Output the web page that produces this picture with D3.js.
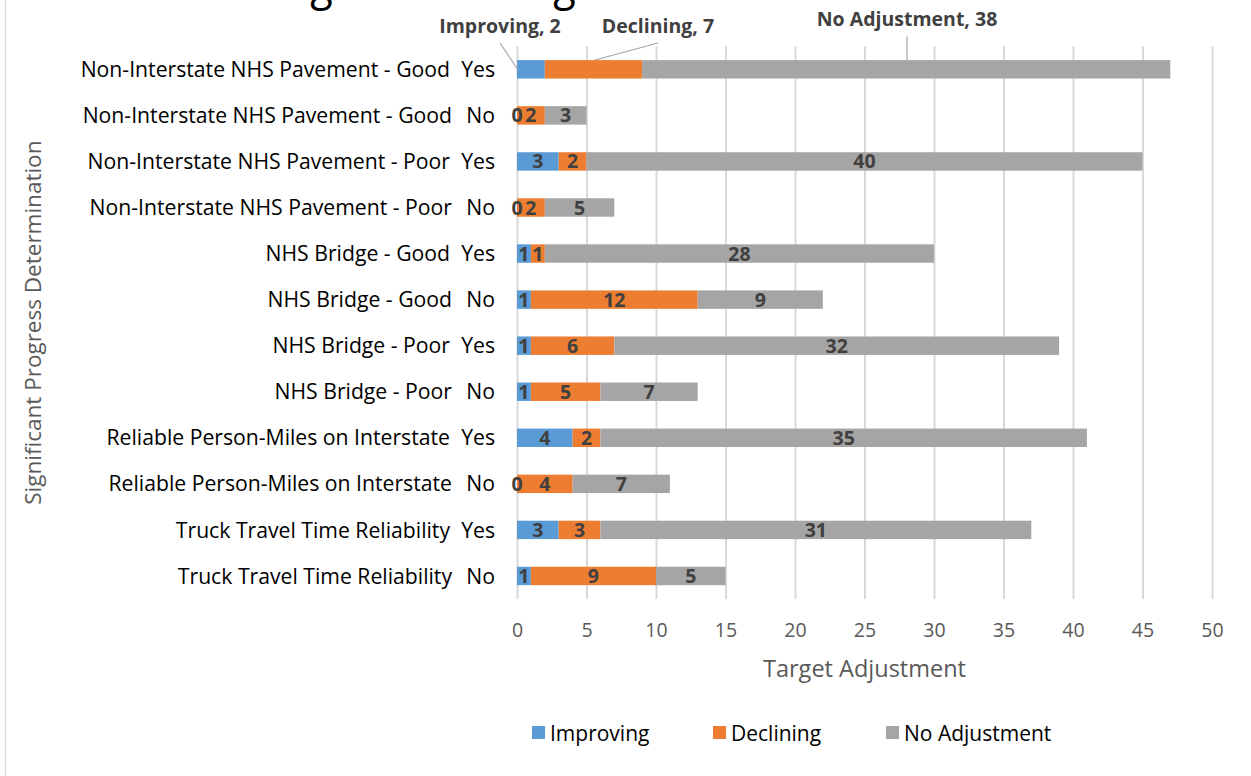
<!DOCTYPE html>
<html>
<head>
<meta charset="utf-8">
<script src="https://cdn.jsdelivr.net/npm/d3@7"></script>
<style>
  html, body { margin: 0; padding: 0; background: #fff; }
  svg { display: block; font-family: "Open Sans", "Noto Sans", sans-serif; }
</style>
</head>
<body>
<svg id="chart" width="1251" height="776"></svg>
<script>
// ---- data ----
const categories = [
  "Non-Interstate NHS Pavement - Good",
  "Non-Interstate NHS Pavement - Good",
  "Non-Interstate NHS Pavement - Poor",
  "Non-Interstate NHS Pavement - Poor",
  "NHS Bridge - Good",
  "NHS Bridge - Good",
  "NHS Bridge - Poor",
  "NHS Bridge - Poor",
  "Reliable Person-Miles on Interstate",
  "Reliable Person-Miles on Interstate",
  "Truck Travel Time Reliability",
  "Truck Travel Time Reliability"
];
const determinations = ["Yes","No","Yes","No","Yes","No","Yes","No","Yes","No","Yes","No"];
const improving    = [2, 0, 3, 0, 1, 1, 1, 1, 4, 0, 3, 1];
const declining    = [7, 2, 2, 2, 1, 12, 6, 5, 2, 4, 3, 9];
const noAdjustment = [38, 3, 40, 5, 28, 9, 32, 7, 35, 7, 31, 5];
const seriesNames  = ["Improving", "Declining", "No Adjustment"];
const seriesColors = ["#5B9BD5", "#ED7D31", "#A5A5A5"];
const xTicks = [0, 5, 10, 15, 20, 25, 30, 35, 40, 45, 50];
const chartTitle = "Significant Progress Determination";
const xTitle = "Target Adjustment";
const yTitle = "Significant Progress Determination";

// ---- layout ----
const svg = d3.select("#chart");
const plotL = 517, plotR = 1212, plotT = 46.3, plotB = 599;

const rows = categories.map((c, i) => ({
  id: i, cat: c, det: determinations[i],
  vals: [improving[i], declining[i], noAdjustment[i]]
}));

const x = d3.scaleLinear().domain([0, 50]).range([plotL, plotR]);
const y = d3.scaleBand().domain(rows.map(r => r.id)).range([plotT, plotB])
  .paddingInner(0.6).paddingOuter(0.3);

// chart frame (left edge visible)
svg.append("line").attr("x1", 5.5).attr("x2", 5.5).attr("y1", 0).attr("y2", 776)
  .attr("stroke", "#D9D9D9").attr("stroke-width", 1.5);

// title (cropped at top)
svg.append("text").attr("x", 612).attr("y", 0)
  .attr("text-anchor", "middle").attr("font-size", 46).attr("fill", "#000")
  .attr("textLength", 670).attr("lengthAdjust", "spacingAndGlyphs")
  .text(chartTitle);

// gridlines
const gx = svg.append("g").attr("transform", `translate(0,${plotB})`)
  .call(d3.axisBottom(x).tickValues(xTicks).tickSize(-(plotB - plotT)).tickFormat(d3.format("d")).tickPadding(24));
gx.select(".domain").remove();
gx.selectAll(".tick line").attr("stroke", "#D9D9D9").attr("stroke-width", 2);
gx.selectAll(".tick text").attr("fill", "#595959").attr("font-size", 19.5)
  .attr("font-family", "Open Sans, sans-serif");

// stacked data
const stackData = rows.map(r => ({ id: r.id, s0: r.vals[0], s1: r.vals[1], s2: r.vals[2] }));
const stacked = d3.stack().keys(["s0", "s1", "s2"])(stackData);

const layers = svg.append("g").selectAll("g").data(stacked).join("g")
  .attr("fill", (d, i) => seriesColors[i]);
layers.selectAll("rect").data(d => d).join("rect")
  .attr("x", d => x(d[0]))
  .attr("width", d => x(d[1]) - x(d[0]))
  .attr("y", d => y(d.data.id))
  .attr("height", y.bandwidth());

// data labels (inside, skip first row which uses callouts)
const lbl = svg.append("g").attr("font-weight", "bold").attr("font-size", 19.5).attr("fill", "#404040")
  .attr("text-anchor", "middle");
stacked.forEach((layer, si) => {
  layer.forEach(d => {
    if (d.data.id === 0) return;
    lbl.append("text")
      .attr("x", (x(d[0]) + x(d[1])) / 2)
      .attr("y", y(d.data.id) + y.bandwidth() / 2)
      .attr("dy", "0.36em")
      .text(d[1] - d[0]);
  });
});

// callouts for first row
const callouts = [
  { si: 0, tx: 500, ty: 33, lx1: 500, ly1: 43, lx2: 518, ly2: 70 },
  { si: 1, tx: 658, ty: 33, lx1: 658, ly1: 43, lx2: 595, ly2: 60 },
  { si: 2, tx: 907, ty: 26, lx1: 907, ly1: 36.5, lx2: 907, ly2: 60 }
];
callouts.forEach(c => {
  svg.append("line").attr("x1", c.lx1).attr("y1", c.ly1).attr("x2", c.lx2).attr("y2", c.ly2)
    .attr("stroke", "#A6A6A6").attr("stroke-width", 1.2);
  svg.append("text").attr("x", c.tx).attr("y", c.ty).attr("text-anchor", "middle")
    .attr("font-weight", "bold").attr("font-size", 19.5).attr("fill", "#404040")
    .text(`${seriesNames[c.si]}, ${rows[0].vals[c.si]}`);
});

// category labels
const cl = svg.append("g").attr("font-size", 21.2).attr("fill", "#000");
rows.forEach(r => {
  const cy = y(r.id) + y.bandwidth() / 2;
  cl.append("text").attr("x", 495).attr("y", cy).attr("dy", "0.36em")
    .attr("text-anchor", "end").text(r.det);
  cl.append("text").attr("x", r.det === "Yes" ? 450 : 452).attr("y", cy).attr("dy", "0.36em")
    .attr("text-anchor", "end").text(r.cat);
});

// axis titles
svg.append("text").attr("x", (plotL + plotR) / 2).attr("y", 669).attr("dy", "0.36em")
  .attr("text-anchor", "middle").attr("font-size", 23.5).attr("fill", "#595959").text(xTitle);
svg.append("text").attr("transform", `translate(33,${(plotT + plotB) / 2}) rotate(-90)`)
  .attr("dy", "0.36em").attr("text-anchor", "middle").attr("font-size", 22.5).attr("fill", "#595959")
  .text(yTitle);

// legend
const legendX = [532, 713, 886];
const lg = svg.append("g");
seriesNames.forEach((n, i) => {
  lg.append("rect").attr("x", legendX[i]).attr("y", 726).attr("width", 13).attr("height", 13)
    .attr("fill", seriesColors[i]);
  lg.append("text").attr("x", legendX[i] + 18).attr("y", 733).attr("dy", "0.36em")
    .attr("font-size", 21).attr("fill", "#000").text(n);
});
</script>
</body>
</html>
